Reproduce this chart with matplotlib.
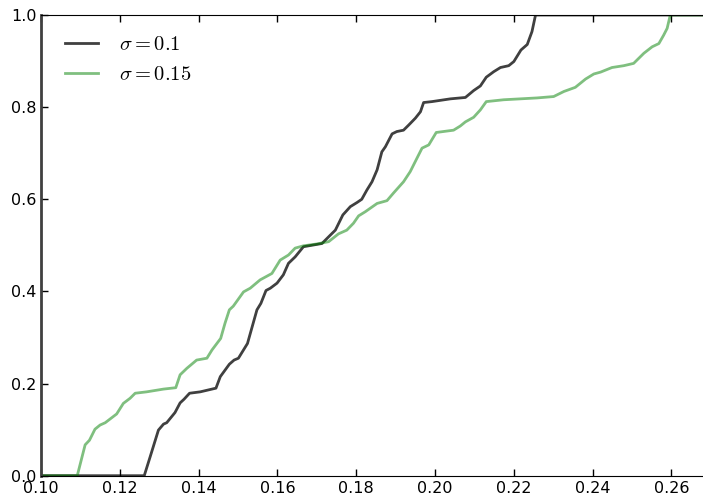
import matplotlib
matplotlib.use("Agg")
import matplotlib.pyplot as plt

# curve values
sig1_x = [0.100, 0.1262, 0.1277, 0.1298, 0.1311, 0.1319, 0.1340, 0.1353, 0.1363, 0.1377,
          0.1404, 0.1444, 0.1455, 0.1478, 0.1490, 0.1501, 0.1524, 0.1548, 0.1558, 0.1571,
          0.1582, 0.1599, 0.1615, 0.1628, 0.1645, 0.1666, 0.1713, 0.1734, 0.1747, 0.1766,
          0.1785, 0.1802, 0.1814, 0.1827, 0.1840, 0.1853, 0.1865, 0.1874, 0.1891, 0.1903,
          0.1920, 0.1933, 0.1950, 0.1963, 0.1971, 0.1992, 0.2039, 0.2077, 0.2098, 0.2115,
          0.2130, 0.2149, 0.2166, 0.2187, 0.2200, 0.2218, 0.2234, 0.2246, 0.2255, 0.268]
sig1_y = [0.0, 0.0, 0.041, 0.099, 0.112, 0.115, 0.137, 0.158, 0.166, 0.179,
          0.182, 0.190, 0.215, 0.242, 0.251, 0.255, 0.287, 0.360, 0.374, 0.402,
          0.407, 0.418, 0.436, 0.461, 0.475, 0.497, 0.504, 0.522, 0.533, 0.566,
          0.584, 0.593, 0.600, 0.620, 0.638, 0.664, 0.703, 0.714, 0.742, 0.747,
          0.750, 0.761, 0.776, 0.790, 0.810, 0.812, 0.818, 0.821, 0.836, 0.846,
          0.865, 0.877, 0.886, 0.890, 0.899, 0.924, 0.936, 0.964, 1.0, 1.0]

sig2_x = [0.100, 0.1092, 0.1112, 0.1123, 0.1137, 0.1150, 0.1163, 0.1192, 0.1209, 0.1226,
          0.1239, 0.1268, 0.1311, 0.1342, 0.1353, 0.1370, 0.1395, 0.1421, 0.1434, 0.1456,
          0.1467, 0.1478, 0.1488, 0.1514, 0.1531, 0.1556, 0.1586, 0.1607, 0.1628, 0.1645,
          0.1666, 0.1700, 0.1730, 0.1755, 0.1776, 0.1793, 0.1806, 0.1823, 0.1853, 0.1878,
          0.1895, 0.1920, 0.1937, 0.1954, 0.1967, 0.1984, 0.2003, 0.2047, 0.2064, 0.2077,
          0.2098, 0.2115, 0.2130, 0.2174, 0.2259, 0.2301, 0.2327, 0.2356, 0.2382, 0.2403,
          0.2420, 0.2449, 0.2479, 0.2504, 0.2530, 0.2551, 0.2568, 0.2580, 0.2589, 0.2597,
          0.268]
sig2_y = [0.0, 0.0, 0.067, 0.077, 0.101, 0.110, 0.115, 0.134, 0.157, 0.168,
          0.179, 0.182, 0.188, 0.191, 0.219, 0.233, 0.251, 0.255, 0.273, 0.298,
          0.331, 0.360, 0.368, 0.399, 0.407, 0.425, 0.439, 0.468, 0.479, 0.494,
          0.499, 0.503, 0.508, 0.525, 0.533, 0.548, 0.564, 0.573, 0.591, 0.597,
          0.614, 0.638, 0.660, 0.689, 0.711, 0.718, 0.745, 0.750, 0.759, 0.768,
          0.778, 0.794, 0.812, 0.816, 0.820, 0.823, 0.834, 0.843, 0.861, 0.872,
          0.876, 0.886, 0.890, 0.895, 0.917, 0.931, 0.938, 0.956, 0.971, 1.0,
          1.0]

labels = [r'$\sigma=0.1$', r'$\sigma=0.15$']
xticks = [0.10, 0.12, 0.14, 0.16, 0.18, 0.20, 0.22, 0.24, 0.26]
yticks = [0.0, 0.2, 0.4, 0.6, 0.8, 1.0]

plt.rcParams['mathtext.fontset'] = 'cm'
plt.rcParams['xtick.direction'] = 'in'
plt.rcParams['ytick.direction'] = 'in'

fig = plt.figure(figsize=(7.03, 4.95), dpi=100)
ax = fig.add_axes([41 / 703, 19.3 / 495, 662 / 703, 460.7 / 495])

ax.plot(sig1_x, sig1_y, color='k', alpha=0.75, lw=2, label=labels[0])
ax.plot(sig2_x, sig2_y, color='g', alpha=0.5, lw=2, label=labels[1])

ax.set_xlim(0.10, 0.268)
ax.set_ylim(0.0, 1.0)
ax.set_xticks(xticks)
ax.set_yticks(yticks)
ax.set_xticklabels(['%.2f' % t for t in xticks])
ax.set_yticklabels(['%.1f' % t for t in yticks])
ax.tick_params(labelsize=11.5, length=5, width=1, top=True, pad=4)
ax.tick_params(axis='y', pad=3)

ax.spines['right'].set_visible(False)
ax.spines['left'].set_color('#404040')
ax.spines['left'].set_linewidth(2)

ax.legend(loc='upper left', frameon=False, fontsize=14.8, handlelength=1.6,
          handletextpad=1.0, labelspacing=0.5, borderaxespad=0.4,
          bbox_to_anchor=(0.012, 0.994))

fig.savefig('out.png', dpi=100)
